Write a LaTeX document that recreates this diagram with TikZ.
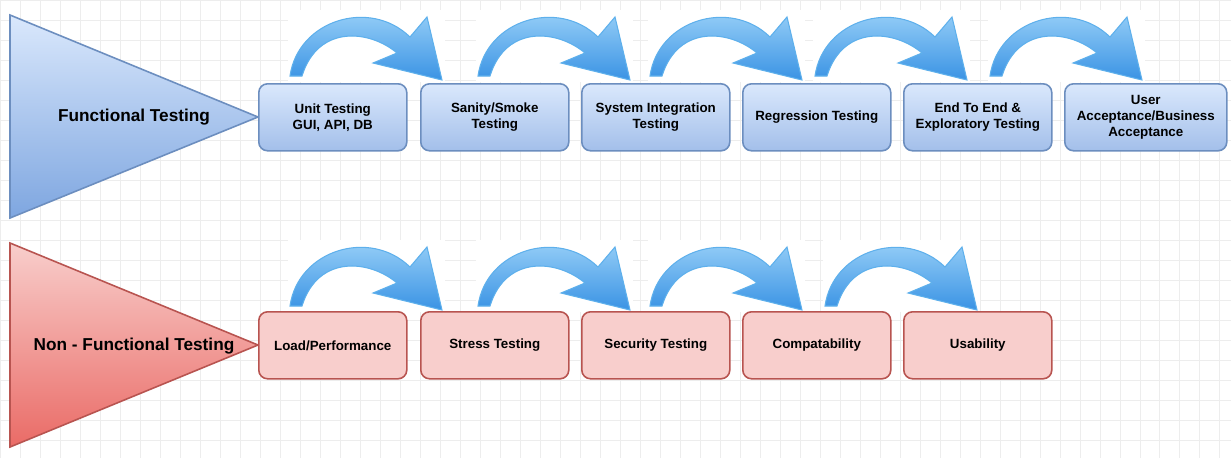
\documentclass[tikz,border=0pt]{standalone}
\usepackage{fontspec}
\setmainfont{Liberation Sans}
\definecolor{bbd}{HTML}{6C8EBF}\definecolor{bt}{HTML}{DAE8FC}\definecolor{bb}{HTML}{A3BFEA}
\definecolor{btb}{HTML}{7EA6E0}
\definecolor{rbd}{HTML}{B85450}\definecolor{rt}{HTML}{F8CECC}\definecolor{rtb}{HTML}{EA6B66}
\definecolor{at}{HTML}{A8DAFB}\definecolor{ab}{HTML}{3A93E4}\definecolor{abd}{HTML}{5EB0EC}
\begin{document}
\begin{tikzpicture}[x=0.02cm,y=-0.02cm,
  fbox/.style={draw=bbd,line width=0.9pt,rounded corners=5pt,top color=bt,bottom color=bb,minimum width=148*0.02cm,minimum height=67*0.02cm,font=\fontsize{7.6}{9}\selectfont\bfseries,align=center,anchor=north west,inner sep=1pt},
  nbox/.style={fbox,draw=rbd,top color=rt,bottom color=rt},
  arr/.style={draw=abd,line width=0.6pt,top color=at,bottom color=ab},
  tlab/.style={font=\fontsize{9.8}{11}\selectfont\bfseries}]
\useasboundingbox (0,0) rectangle (1231,458);
\fill[white] (0,0) rectangle (1231,458);
\draw[black!7,line width=0.3pt,step=0.4cm] (0,0) grid (1231,458);
% triangles
\path[draw=bbd,line width=0.9pt,top color=bt,bottom color=btb] (10,15) -- (258,117) -- (10,218) -- cycle;
\node[tlab] (ft) at (134,117) {Functional Testing};
\path[draw=rbd,line width=0.9pt,top color=rt,bottom color=rtb] (10,243) -- (258,345) -- (10,447) -- cycle;
\node[tlab] (nft) at (134,346) {Non - Functional Testing};
% arrows
\foreach \s/\dy in {0/0,188/0,360/0,525/0,700/0,0/230,188/230,360/230,535/230}{
  \begin{scope}[shift={(\s,\dy)}]
  \fill[white] (288,10) rectangle (445,82);
  \path[arr] (290,76) .. controls (298,20) and (370,-2) .. (410,37) -- (427,17) -- (442,80) -- (373,63) -- (397,53) .. controls (370,30) and (318,24) .. (302,76) -- cycle;
  \end{scope}}
% boxes
\node[fbox] (f1) at (258,83) {Unit Testing\\GUI, API, DB};
\node[fbox] (f2) at (420,83) {Sanity/Smoke\\Testing};
\node[fbox] (f3) at (581,83) {System Integration\\Testing};
\node[fbox] (f4) at (742,83) {Regression Testing};
\node[fbox] (f5) at (903,83) {End To End \&\\Exploratory Testing};
\node[fbox,minimum width=162*0.02cm] (f6) at (1064,83) {User\\Acceptance/Business\\Acceptance};
\node[nbox] (n1) at (258,311) {Load/Performance};
\node[nbox] (n2) at (420,311) {Stress Testing};
\node[nbox] (n3) at (581,311) {Security Testing};
\node[nbox] (n4) at (742,311) {Compatability};
\node[nbox] (n5) at (903,311) {Usability};
\end{tikzpicture}
\end{document}
